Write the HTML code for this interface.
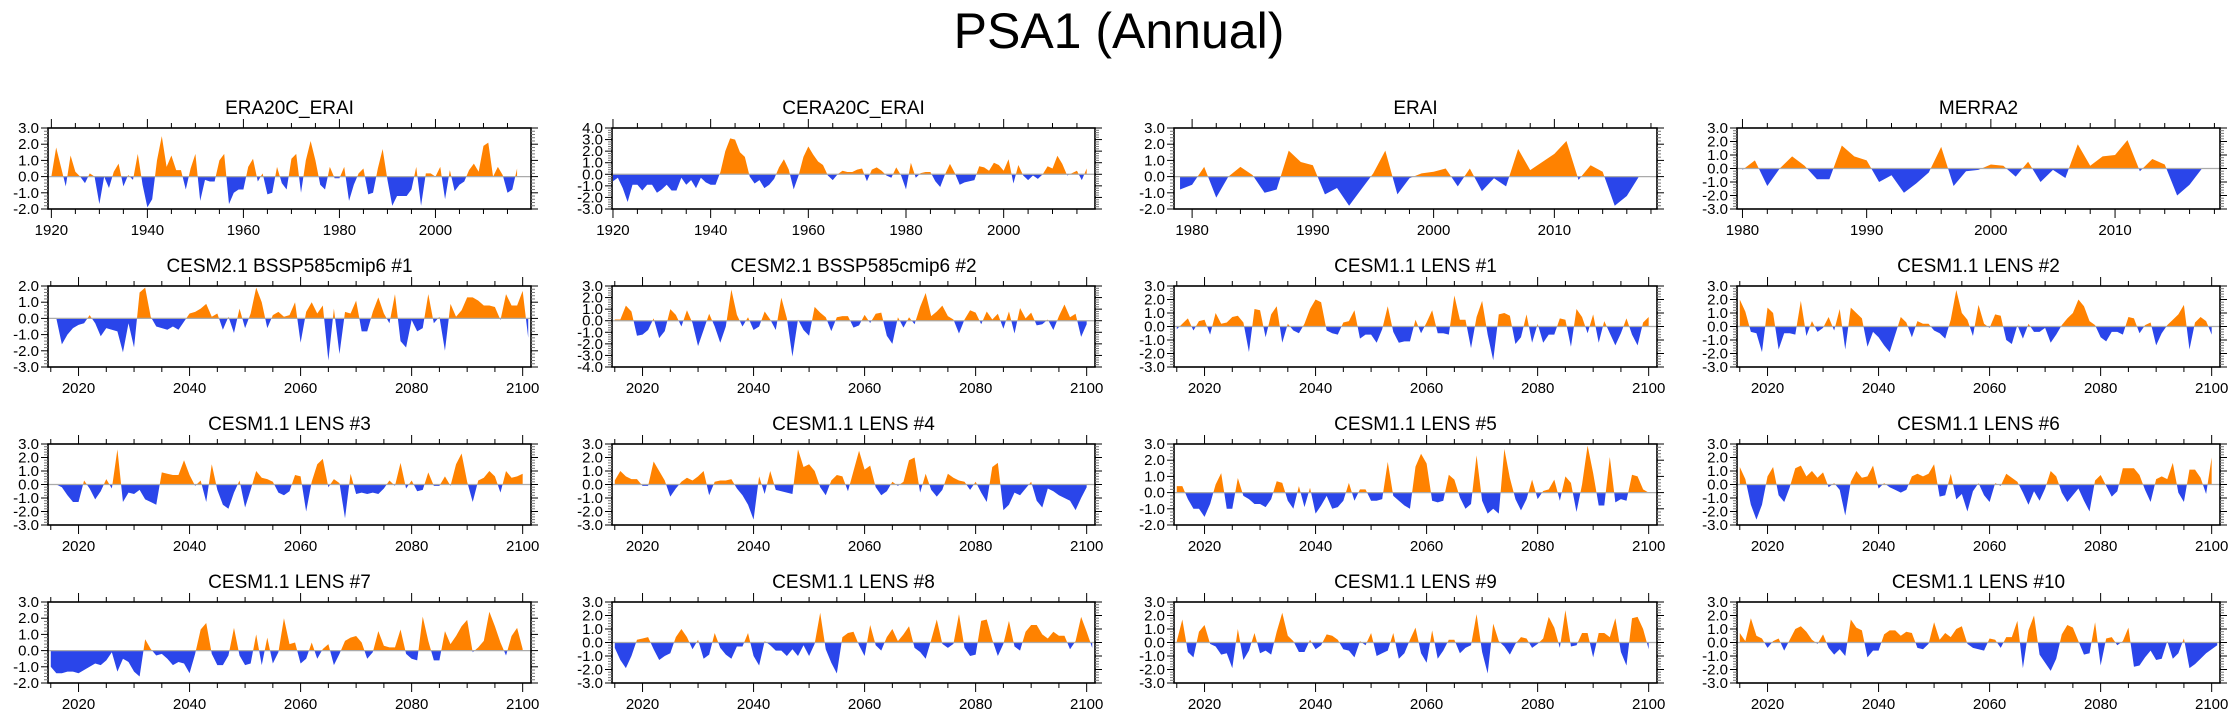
<!DOCTYPE html>
<html><head><meta charset="utf-8"><style>
html,body{margin:0;padding:0;background:#fff;}
svg{display:block;font-family:"Liberation Sans",Arial,sans-serif;}
</style></head><body>
<svg id="chart" width="2238" height="719" viewBox="0 0 2238 719">
<text x="1119" y="48" text-anchor="middle" font-size="50" fill="#000">PSA1 (Annual)</text>
</svg>
<script>
const panelTitles=["ERA20C_ERAI","CERA20C_ERAI","ERAI","MERRA2","CESM2.1 BSSP585cmip6 #1","CESM2.1 BSSP585cmip6 #2","CESM1.1 LENS #1","CESM1.1 LENS #2","CESM1.1 LENS #3","CESM1.1 LENS #4","CESM1.1 LENS #5","CESM1.1 LENS #6","CESM1.1 LENS #7","CESM1.1 LENS #8","CESM1.1 LENS #9","CESM1.1 LENS #10"];
const startYears=[1920,1920,1979,1980,2015,2015,2015,2015,2015,2015,2015,2015,2015,2015,2015,2015];
const yMins=[-2,-3,-2,-3,-3,-4,-3,-3,-3,-3,-2,-3,-2,-3,-3,-3];
const yMaxs=[3,4,3,3,2,3,3,3,3,3,3,3,3,3,3,3];
const era20cValues=[0,1.8,0.6,-0.6,1.3,0.3,0,-0.4,0.2,0,-1.7,0,-0.7,0.3,0.8,-0.6,0.1,-0.2,1.4,-0.5,-1.9,-1.4,1.0,2.5,0.6,1.3,0.4,0.4,-0.8,0.5,1.4,-1.5,-0.2,-0.3,-0.3,1.0,1.4,-1.7,-1.0,-0.8,-0.8,0.6,1.1,-0.3,0.2,-1.1,-1.0,0.6,-0.4,-0.8,1.1,1.4,-1.0,1.0,2.2,1.0,-0.5,-0.8,0.6,-0.1,-0.1,0.6,-1.5,-0.5,0.2,0.5,-1.1,-1.0,0.5,1.7,-0.2,-1.8,-1.2,-1.2,-1.2,-0.8,0.6,-1.8,0.2,0.2,0,0.6,-1.4,0.4,-0.9,-0.5,-0.3,0.4,0.8,0.3,1.9,2.1,0,0.6,0.1,-1.0,-0.8,0.5];
const cera20cValues=[-0.6,-0.3,-1.2,-2.4,-0.9,-0.9,-1.4,-0.9,-0.9,-1.6,-1.3,-0.9,-1.4,-1.4,-0.3,-0.9,-0.5,-1.2,-0.3,-0.7,-0.9,-0.9,0.2,2.0,3.1,3.0,1.9,1.5,-0.2,-0.8,-0.5,-1.2,-0.9,-0.4,0.6,1.3,0.4,-1.3,-0.1,1.5,2.4,1.7,1.1,0.8,-0.1,-0.5,0,0.3,0.2,0.2,0.4,0.5,-0.6,0.4,0.6,0.3,-0.1,-0.3,0.6,-0.1,-1.3,1.0,-0.3,0.1,0.2,0.2,-0.6,-1.1,0,0.9,0.1,-0.9,-0.7,-0.6,-0.5,0.7,0.6,0.3,1.0,0.8,0.3,1.3,-0.8,0.8,-0.1,-0.5,-0.1,-0.4,0,0.7,0.5,1.6,0.9,-0.1,0.1,0.3,-0.5,0.5];
const eraiValues=[-0.8,-0.5,0.6,-1.3,0,0.6,0.1,-1.0,-0.8,1.6,0.9,0.7,-1.1,-0.7,-1.8,-0.8,0.2,1.6,-1.1,-0.1,0.2,0.3,0.5,-0.6,0.5,-0.9,-0.1,-0.6,1.7,0.4,0.9,1.4,2.2,-0.2,0.7,0.3,-1.8,-1.2,0];
const merra2Values=[-0.1,0.6,-1.3,0,0.9,0.2,-0.8,-0.8,1.7,0.9,0.6,-1.0,-0.5,-1.8,-1.1,-0.3,1.6,-1.3,-0.2,-0.1,0.3,0.2,-0.6,0.5,-1.0,-0.1,-0.7,1.8,0.2,0.9,1.0,2.1,-0.2,0.7,0.3,-2.0,-1.2,0];
const cesm2Run1Values=[0,0,-1.6,-1.0,-0.6,-0.4,-0.3,0.2,-0.3,-1.1,-0.6,-0.7,-0.8,-2.1,-0.3,-1.8,1.6,1.9,0.1,-0.5,-0.6,-0.7,-0.5,-0.7,-0.2,0.3,0.4,0.6,0.9,0.1,0.3,-0.7,0.1,-0.9,0.6,-0.6,0.3,1.9,1.0,-0.6,0.2,0.4,0.1,0.2,1.0,-1.5,0.4,1.0,0.3,0.8,-2.6,0.6,-2.2,0.4,0.3,1.1,-0.8,-0.8,0.4,1.3,0.3,-0.3,1.5,-1.4,-1.8,-0.1,-0.8,-0.6,1.5,-0.3,0.1,-2.0,0.9,0.1,0.5,1.3,1.3,1.1,0.8,0.8,0.7,-0.1,1.5,0.8,0.8,1.7,-1.2];
const cesm2Run2Values=[0.1,0.1,1.3,0.8,-1.3,-1.2,-0.8,0.2,-1.5,-0.9,1.0,0.5,-0.5,0.9,-0.2,-2.2,-0.8,0.6,-0.5,-1.9,-0.5,2.7,0.5,-0.5,0.3,-0.8,-0.5,0.8,0.1,-0.8,2.0,0.2,-3.1,0.1,-0.8,-1.3,1.2,0.7,0.3,-0.9,0.3,0.4,0.4,-0.6,-0.4,0.5,-0.2,0.6,0.7,-1.3,-2.0,0.3,-0.6,0.3,-0.3,1.2,2.4,0.4,0.8,1.3,0.4,0.1,-1.1,0.1,0.9,0.7,-0.3,0.8,0.1,0.6,-0.7,0.8,-1.1,1.1,0.2,0.7,-0.4,-0.3,0.1,-0.8,0.4,1.4,0.3,0.6,-1.4,-0.3];
const lens1Values=[-0.2,0.2,0.6,-0.3,0.4,0.5,-0.6,1.0,0.2,0.3,0.7,0.8,0.3,-1.9,1.3,1.2,-0.8,0.9,1.5,-1.2,0.2,-0.3,-0.5,0.2,1.3,2.0,1.8,-0.3,-0.5,-0.6,0.3,0.4,1.2,-0.9,-0.6,-0.6,-1.2,-0.2,1.5,-0.4,-1.2,-1.1,-1.1,0.5,-0.5,0.3,1.2,-0.5,-0.5,-0.6,2.3,0.5,0.5,-1.6,0.7,1.9,-0.6,-2.5,0.9,1.0,0.8,-1.3,-0.8,0.9,-1.2,0.2,-1.2,-0.6,-0.6,0.6,0.5,-1.5,1.3,0.7,-0.5,0.9,-1.2,0.4,-0.5,-1.4,-0.5,0.6,-0.6,-1.4,0.3,0.7];
const lens2Values=[2.0,1.1,-0.4,-0.5,-1.9,1.4,1.0,-1.7,-0.5,-0.5,-0.6,1.9,-0.7,0.4,-0.4,-0.1,0.7,-0.3,1.3,-1.7,1.4,1.0,0.6,-1.5,-0.4,-0.8,-1.4,-1.9,-0.6,0.7,0.3,-0.8,0.4,0.2,0.2,-0.3,-0.5,-0.9,0.5,2.7,1.0,0.5,-0.7,1.6,0.2,-0.1,0.9,0.8,-1.0,-1.3,0.1,-0.9,0.2,-0.4,-0.4,-0.1,-1.2,-0.6,0.1,0.6,1.0,2.0,1.5,0.4,0.1,-0.8,-1.1,-0.4,-0.4,-0.6,0.7,0.6,-0.5,0.1,0.3,-1.4,-0.5,0.1,0.5,0.9,1.6,-1.7,0.3,0.7,0.4,-0.6];
const lens3Values=[0,0,-0.2,-0.8,-1.3,-1.3,0.3,-0.3,-1.1,-0.5,0.4,-0.3,2.6,-1.3,-0.6,-0.7,-0.4,-1.1,-1.3,-1.5,0.9,0.8,0.7,0.7,1.8,0.7,-0.1,0.3,-1.3,1.5,-0.4,-1.5,-1.8,-0.6,0.3,-1.7,-0.4,1.0,0.5,0.4,0.2,-0.6,-0.8,-0.5,0.7,0.6,-2.0,0.2,1.5,1.9,-0.2,0.4,0.1,-2.5,0.8,-0.7,-0.6,-0.7,-0.6,-0.7,-0.3,0.3,-0.1,1.6,-0.3,0.3,-0.5,-0.4,0.9,-0.1,-0.1,0.6,-0.1,1.5,2.3,0.2,-1.3,0.3,0.5,1.0,0.6,-0.6,1.0,0.5,0.6,0.8];
const lens4Values=[0.3,1.0,0.6,0.4,0.4,-0.1,-0.1,1.7,1.0,0.3,-0.9,-0.3,0.2,0.5,0.3,0.6,1.0,-0.8,0.2,0.3,0.3,0.4,-0.3,-0.8,-1.5,-2.6,0.6,-0.7,1.0,-0.4,-0.5,-0.6,-0.7,2.6,1.3,1.5,1.0,-0.2,-0.8,0.3,0.7,0.6,-0.5,1.0,2.5,1.1,1.4,-0.2,-0.8,-0.5,0.2,-0.1,0.2,1.8,2.0,-0.6,0.8,-0.4,-0.9,-0.4,0.8,0.5,0.3,0.2,-0.4,0.2,-0.6,-1.3,1.3,1.6,-1.9,-1.5,-0.6,-0.8,-0.3,0.2,-1.2,-1.7,-0.3,-0.5,-0.8,-1.0,-1.2,-1.9,-1.0,-0.2];
const lens5Values=[0.4,0.4,-0.4,-1.0,-1.0,-1.5,-0.7,0.5,1.2,-1.0,-1.0,0.9,-0.2,-0.4,-0.7,-0.7,-0.9,-0.4,0.7,0.6,-0.5,-1.0,0.4,-0.9,0.3,-1.3,-0.8,-0.2,-1.0,-0.9,-0.5,0.6,-0.5,0.2,0.2,-0.5,-0.5,-0.4,1.9,-0.2,-0.5,-0.8,-1.0,1.6,2.4,1.8,-0.5,-0.6,-0.5,1.1,0.8,-0.3,-1.0,-0.7,2.3,-0.5,-1.3,-1.0,-1.3,2.7,0.9,-0.4,-1.1,-0.4,0.8,-0.4,0.1,0.2,0.8,-0.5,1.0,0.6,-1.2,0.5,2.9,1.2,-0.8,-0.8,2.2,-0.6,-0.4,-0.5,1.1,1.0,0.2,0];
const lens6Values=[1.3,0.4,-1.5,-2.6,-1.5,0.6,1.3,-0.8,-1.3,-0.2,1.2,1.4,0.6,1.0,0.5,0.9,-0.2,0.1,-0.4,-2.3,0.2,1.0,0.5,0.6,1.4,-0.3,0.1,-0.2,-0.4,-0.6,-0.4,0.6,0.8,0.6,0.8,1.5,-0.9,-0.8,0.8,-1.1,-0.7,-2.0,-0.5,0.1,-0.8,-1.3,0.1,-0.1,0.8,0.5,0.2,-0.6,-1.5,-0.5,-1.2,-0.3,1.0,0.6,-0.6,-1.3,-0.8,-0.3,-1.2,-2.0,0.3,0.7,-0.1,-0.9,-0.5,1.2,1.2,1.2,0.7,-0.4,-1.3,0.4,0.6,0.4,1.6,-0.6,-1.3,1.1,1.1,0.5,-0.7,2.0];
const lens7Values=[-1.0,-1.4,-1.4,-1.3,-1.3,-1.4,-1.2,-1.0,-0.8,-0.9,-0.6,-0.1,-1.3,-0.5,-0.7,-1.3,-1.6,0.7,0.1,-0.3,-0.2,-0.5,-0.9,-0.7,-0.8,-1.4,-0.2,1.3,1.7,-0.2,-0.9,-0.9,-0.3,1.4,-0.3,-0.9,-0.8,1.0,-0.9,0.8,-0.8,-0.1,2.0,0.4,0.5,-0.8,-0.5,0.5,-0.5,0.1,0.4,-0.9,-0.2,0.6,0.8,0.9,0.5,-0.5,-0.1,1.2,0.3,0.2,0.2,1.3,-0.2,-0.5,-0.6,2.1,0.6,-0.6,-0.6,1.2,0.4,0.9,1.5,1.9,-0.1,0.2,0.6,2.4,1.5,0.5,-0.3,0.9,1.4,0.1];
const lens8Values=[-0.4,-1.3,-1.9,-1.0,0.2,0.3,0.4,-0.5,-1.3,-1.0,-0.8,0.4,1.0,0.4,-0.5,0.2,-1.2,-0.9,0.7,-0.4,-0.9,-1.2,-0.3,-0.3,0.7,-1.0,-1.7,0.1,-0.2,-0.6,-0.6,-1.0,-0.5,-1.0,-0.2,-1.0,-0.1,2.2,-0.5,-1.5,-2.3,0.4,0.7,0.8,-0.2,-1.0,1.3,-0.2,-0.6,0.4,1.0,0.1,0.6,1.2,-0.4,-0.7,-1.2,0.2,1.7,-0.1,-0.4,-0.1,2.1,-0.4,-1.0,-0.9,1.6,1.7,0.2,-1.0,-0.1,1.6,-0.3,-0.6,0.8,1.3,1.3,0.6,0.3,0.8,0.5,0.5,-0.5,0.1,1.9,0.8,-0.4];
const lens9Values=[0.1,1.7,-0.7,-1.1,0.8,1.3,-0.1,-0.3,-0.9,-0.8,-1.9,1.0,-1.3,-0.6,0.7,-0.8,-0.6,-0.9,0.8,2.2,0.5,0.1,-0.7,-0.7,0.2,-0.5,-0.2,0.6,0.5,0.2,-0.5,-0.6,-1.1,0.1,-0.2,0.7,-1.0,-0.8,-0.6,0.7,-1.2,-0.8,0.2,1.1,-0.8,-1.5,0.9,-1.2,-0.6,0.2,0.2,-0.8,-0.4,-0.2,2.1,-0.7,-2.3,1.4,0.1,-0.3,-0.9,-0.1,0.4,0.3,-0.4,-0.1,0.3,1.9,1.1,-0.4,2.4,-0.3,-0.2,0.7,0.7,-1.1,0.7,0.7,0.4,1.8,-0.7,-1.7,1.8,1.9,1.0,-0.5];
const lens10Values=[0.7,0.1,1.8,0.5,0.3,-0.4,0.1,0.3,-0.6,0.2,1.0,1.2,0.8,0.2,-0.1,0.6,-0.4,-0.9,-0.5,-1.0,1.7,1.1,0.9,-1.1,-0.6,-0.6,0.6,0.9,0.9,0.5,0.8,0.7,-0.4,-0.5,-0.1,1.5,0.2,0.7,0.4,1.0,1.2,-0.1,-0.4,-0.5,-0.6,0.3,0.2,-0.4,0.4,0.4,1.6,-1.9,0.9,2.0,-0.9,-1.5,-2.1,-1.2,0.6,1.3,1.1,0.1,-0.9,-0.8,1.5,-1.7,0.3,0.4,-0.2,0.1,1.1,-1.8,-1.7,-1.1,-0.6,-1.3,-1.2,0.1,-1.2,-0.8,0.3,-1.9,-1.6,-1.2,-0.8,-0.5,-0.2];
const seriesValues=[era20cValues,cera20cValues,eraiValues,merra2Values,cesm2Run1Values,cesm2Run2Values,lens1Values,lens2Values,lens3Values,lens4Values,lens5Values,lens6Values,lens7Values,lens8Values,lens9Values,lens10Values];
const xDomainMin=[1919.3,1919.8,1978.5,1979.56,2014.5,2014.5,2014.5,2014.5,2014.5,2014.5,2014.5,2014.5,2014.5,2014.5,2014.5,2014.5];
const xDomainMax=[2019.9,2018.7,2018.5,2018.45,2101.5,2101.5,2101.5,2101.5,2101.5,2101.5,2101.5,2101.5,2101.5,2101.5,2101.5,2101.5];
const xMajorStep=[20,20,10,10,20,20,20,20,20,20,20,20,20,20,20,20];
const xMinorStep=[5,5,2,2,5,5,5,5,5,5,5,5,5,5,5,5];

const NS="http://www.w3.org/2000/svg";
const svg=document.getElementById('chart');
const colLeft=[48,612,1174,1737], rowTop=[128,286,444,602], PW=483, PH=81;
function mk(tag,attrs,parent){const e=document.createElementNS(NS,tag);for(const k in attrs)e.setAttribute(k,attrs[k]);(parent||svg).appendChild(e);return e;}

for(let p=0;p<16;p++){
  const L=colLeft[p%4], T=rowTop[Math.floor(p/4)], R=L+PW, B=T+PH;
  const vals=seriesValues[p], y0=yMins[p], y1=yMaxs[p], xa=xDomainMin[p], xb=xDomainMax[p];
  const sx=v=>L+(v-xa)/(xb-xa)*PW;
  const sy=v=>B-(v-y0)/(y1-y0)*PH;
  const g=mk('g',{});
  
  
  const t=mk('text',{x:(L+R)/2,y:T-14,'text-anchor':'middle','font-size':19,fill:'#000'},g);
  t.textContent=panelTitles[p];
  
  
  const zy=sy(0);
  let d='M'+sx(startYears[p]).toFixed(2)+','+zy.toFixed(2);
  vals.forEach((v,i)=>{d+=' L'+sx(startYears[p]+i).toFixed(2)+','+sy(v).toFixed(2);});
  d+=' L'+sx(startYears[p]+vals.length-1).toFixed(2)+','+zy.toFixed(2)+' Z';
  const cpA=mk('clipPath',{id:'ca'+p},g); mk('rect',{x:L,y:T,width:PW,height:zy-T},cpA);
  const cpB=mk('clipPath',{id:'cb'+p},g); mk('rect',{x:L,y:zy,width:PW,height:B-zy},cpB);
  const pos=mk('path',{d:d,fill:'#ff8200','clip-path':'url(#ca'+p+')'},g);
  
  
  const neg=mk('path',{d:d,fill:'#2a45ea','clip-path':'url(#cb'+p+')'},g);
  
  
  const zl=mk('line',{x1:L,x2:R,y1:zy,y2:zy,stroke:'#aaa','stroke-width':1.2},g);
  
  
  const fr=mk('rect',{x:L,y:T,width:PW,height:PH,fill:'none',stroke:'#000','stroke-width':1.6},g);
  
  
  for(let k=Math.round(y0*5);k<=Math.round(y1*5);k++){
    const v=k/5, yy=sy(v), major=(k%5===0);
    const len=major?7:4, col=major?'#000':'#777';
    mk('line',{x1:L-len,x2:L,y1:yy,y2:yy,stroke:col,'stroke-width':1},g);
    mk('line',{x1:R,x2:R+len,y1:yy,y2:yy,stroke:col,'stroke-width':1},g);
    if(major){
      const lb=mk('text',{x:L-9,y:yy+5,'text-anchor':'end','font-size':15,fill:'#000'},g);
      lb.textContent=v.toFixed(1);
      
      
    }
  }
  const ms=xMinorStep[p];
  for(let yr=Math.ceil(xa/ms)*ms;yr<=xb;yr+=ms){
    const xx=sx(yr), major=(yr%xMajorStep[p]===0);
    const len=major?9:5;
    mk('line',{x1:xx,x2:xx,y1:T-len,y2:T,stroke:'#000','stroke-width':1},g);
    mk('line',{x1:xx,x2:xx,y1:B,y2:B+len,stroke:'#000','stroke-width':1},g);
    if(major){
      const lb=mk('text',{x:xx,y:B+26,'text-anchor':'middle','font-size':15,fill:'#000'},g);
      lb.textContent=String(yr);
      
      
    }
  }
}
</script>
</body></html>
